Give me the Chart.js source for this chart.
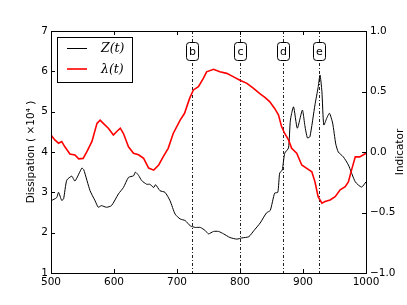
<!DOCTYPE html>
<html><head><meta charset="utf-8">
<script src="https://cdn.jsdelivr.net/npm/chart.js@4.4.1/dist/chart.umd.min.js"></script>
<style>html,body{margin:0;padding:0;background:#fff}#wrap{width:407px;height:305px}</style>
</head><body><div id="wrap"><canvas id="c" width="407" height="305"></canvas></div>
<script>
// Z(t): dissipation (x10^4), left axis
const zX = [500,509,512,517,520,525,533,538,549,552,562,570,575,580,588,596,607,615,623,631,634,639,644,652,657,663,666,673,681,689,697,705,713,721,729,737,745,750,758,766,774,784,795,803,814,822,832,842,848,855,860,863,867,871,877,880,885,891,899,903,907,911,919,924,927,930,933,938,942,947,952,956,964,972,983,993,1000];
const zY = [2.79,2.87,3.0,2.8,2.84,3.3,3.4,3.28,3.6,3.56,3.04,2.79,2.63,2.67,2.63,2.67,2.96,3.12,3.37,3.41,3.5,3.42,3.29,3.2,3.2,3.12,3.19,3.04,3.0,2.79,2.46,2.34,2.3,2.17,2.13,2.13,2.05,1.97,2.03,2.03,1.97,1.88,1.84,1.87,1.9,2.05,2.24,2.49,2.55,2.98,3.0,3.48,3.55,3.97,4.1,4.79,5.12,4.59,5.04,4.65,4.35,4.38,5.17,5.6,5.91,5.5,4.67,4.85,4.96,4.72,4.2,4.0,3.88,3.68,3.26,3.13,3.26];
// lambda(t): indicator, right axis
const lamX = [500,506,512,517,522,530,538,544,551,557,565,573,578,583,591,599,604,610,615,623,631,639,647,655,663,671,678,686,694,705,712,720,726,734,742,747,758,768,779,789,800,811,821,832,840,847,855,861,866,871,877,882,890,898,906,914,919,924,930,935,943,951,959,967,972,977,983,990,1000];
const lamY = [0.14,0.1,0.073,0.087,0.043,-0.017,-0.025,-0.057,-0.053,0.003,0.087,0.237,0.263,0.237,0.197,0.14,0.167,0.197,0.153,0.043,-0.01,-0.023,-0.053,-0.133,-0.15,-0.107,-0.04,0.03,0.153,0.263,0.32,0.443,0.513,0.54,0.61,0.663,0.683,0.663,0.65,0.623,0.593,0.567,0.527,0.48,0.45,0.417,0.36,0.307,0.21,0.153,0.1,0.03,-0.01,-0.107,-0.135,-0.163,-0.247,-0.37,-0.423,-0.41,-0.397,-0.37,-0.313,-0.287,-0.247,-0.15,-0.04,-0.04,-0.01];
// event markers
const eventLabels = ['b','c','d','e'];
const eventX = [724,800,868,925];
const xTicks = [500,600,700,800,900,1000];
const yTicks = [1,2,3,4,5,6,7];
const y2Ticks = [-1,-0.5,0,0.5,1];

const sans = '"DejaVu Sans", sans-serif';
const tickFont = {family: sans, size: 10.5};

const frame = {
  id: 'frame',
  beforeDatasetsDraw(chart) {
    const {ctx, chartArea: a, scales} = chart;
    ctx.save();
    ctx.strokeStyle = '#222';
    ctx.lineWidth = 1;
    ctx.setLineDash([3,2,1,2]);
    eventX.forEach(v => {
      const px = Math.round(scales.x.getPixelForValue(v)) + 0.5;
      ctx.beginPath(); ctx.moveTo(px, a.top); ctx.lineTo(px, a.bottom); ctx.stroke();
    });
    ctx.restore();
  },
  afterDraw(chart) {
    const {ctx, chartArea: a, scales} = chart;
    ctx.save();
    ctx.strokeStyle = '#000'; ctx.lineWidth = 1;
    ctx.strokeRect(Math.round(a.left)+0.5, Math.round(a.top)+0.5, Math.round(a.right-a.left), Math.round(a.bottom-a.top));
    const L = 4;
    ctx.beginPath();
    xTicks.forEach(v => {
      const px = Math.round(scales.x.getPixelForValue(v)) + 0.5;
      ctx.moveTo(px, a.bottom); ctx.lineTo(px, a.bottom - L);
      ctx.moveTo(px, a.top); ctx.lineTo(px, a.top + L);
    });
    yTicks.forEach(v => {
      const py = Math.round(scales.y.getPixelForValue(v)) + 0.5;
      ctx.moveTo(a.left, py); ctx.lineTo(a.left + L, py);
    });
    y2Ticks.forEach(v => {
      const py = Math.round(scales.y2.getPixelForValue(v)) + 0.5;
      ctx.moveTo(a.right, py); ctx.lineTo(a.right - L, py);
    });
    ctx.stroke();
    ctx.font = '11px ' + sans;
    ctx.textAlign = 'center'; ctx.textBaseline = 'middle';
    eventX.forEach((v, i) => {
      const px = Math.round(scales.x.getPixelForValue(v)) + 0.5;
      const w = 12, h = 18, cy = 51.5;
      ctx.beginPath();
      ctx.roundRect(px - w/2, cy - h/2, w, h, 3);
      ctx.fillStyle = '#fff'; ctx.fill();
      ctx.strokeStyle = '#000'; ctx.lineWidth = 1; ctx.setLineDash([]); ctx.stroke();
      ctx.fillStyle = '#000';
      ctx.fillText(eventLabels[i], px, cy + 0.5);
    });
    const lx = 57.5, ly = 37.5, lw = 75, lh = 45;
    ctx.fillStyle = '#fff'; ctx.fillRect(lx, ly, lw, lh);
    ctx.strokeStyle = '#000'; ctx.lineWidth = 1; ctx.strokeRect(lx, ly, lw, lh);
    ctx.lineWidth = 1; ctx.strokeStyle = '#000';
    ctx.beginPath(); ctx.moveTo(67, 48.5); ctx.lineTo(87, 48.5); ctx.stroke();
    ctx.lineWidth = 1.6; ctx.strokeStyle = '#ff0000';
    ctx.beginPath(); ctx.moveTo(67, 69); ctx.lineTo(87, 69); ctx.stroke();
    ctx.fillStyle = '#000'; ctx.textAlign = 'left';
    ctx.font = 'italic 12.5px "DejaVu Serif", serif';
    ctx.fillText('Z(t)', 101, 49);
    ctx.fillText('λ(t)', 101, 70);
    ctx.font = '10.5px ' + sans;
    ctx.textAlign = 'center';
    ctx.save(); ctx.translate(31, (a.top + a.bottom)/2); ctx.rotate(-Math.PI/2);
    ctx.fillText('Dissipation ( ×10⁴ )', 0, 0); ctx.restore();
    ctx.save(); ctx.translate(400, (a.top + a.bottom)/2); ctx.rotate(-Math.PI/2);
    ctx.fillText('Indicator', 0, 0); ctx.restore();
    ctx.restore();
  }
};

new Chart(document.getElementById('c'), {
  type: 'line',
  data: {
    datasets: [
      {label: 'λ(t)', data: lamX.map((x, i) => ({x, y: lamY[i]})), yAxisID: 'y2', borderColor: '#ff0000', borderWidth: 1.6, pointRadius: 0, tension: 0, fill: false},
      {label: 'Z(t)', data: zX.map((x, i) => ({x, y: zY[i]})), yAxisID: 'y', borderColor: '#000', borderWidth: 1, pointRadius: 0, tension: 0.2, fill: false}
    ]
  },
  options: {
    responsive: false, animation: false, devicePixelRatio: 1,
    layout: {padding: {top: 31, left: 0, right: 0, bottom: 0}},
    plugins: {legend: {display: false}, tooltip: {enabled: false}},
    scales: {
      x: {type: 'linear', min: 500, max: 1000,
          afterBuildTicks: s => { s.ticks = xTicks.map(v => ({value: v})); },
          ticks: {font: tickFont, color: '#000', padding: 3, maxRotation: 0, callback: v => String(v)},
          grid: {display: false, drawTicks: false}, border: {display: false},
          afterFit: s => { s.height = 32; }},
      y: {position: 'left', min: 1, max: 7,
          afterBuildTicks: s => { s.ticks = yTicks.map(v => ({value: v})); },
          ticks: {font: tickFont, color: '#000', padding: 3, callback: v => String(v)},
          grid: {display: false, drawTicks: false}, border: {display: false},
          afterFit: s => { s.width = 51; }},
      y2: {position: 'right', min: -1, max: 1,
          afterBuildTicks: s => { s.ticks = y2Ticks.map(v => ({value: v})); },
          ticks: {font: tickFont, color: '#000', padding: 4, callback: v => (v < 0 ? '\u2212' : '') + Math.abs(v).toFixed(1)},
          grid: {display: false, drawTicks: false}, border: {display: false},
          afterFit: s => { s.width = 41; }}
    }
  },
  plugins: [frame]
});
</script>
</body></html>
